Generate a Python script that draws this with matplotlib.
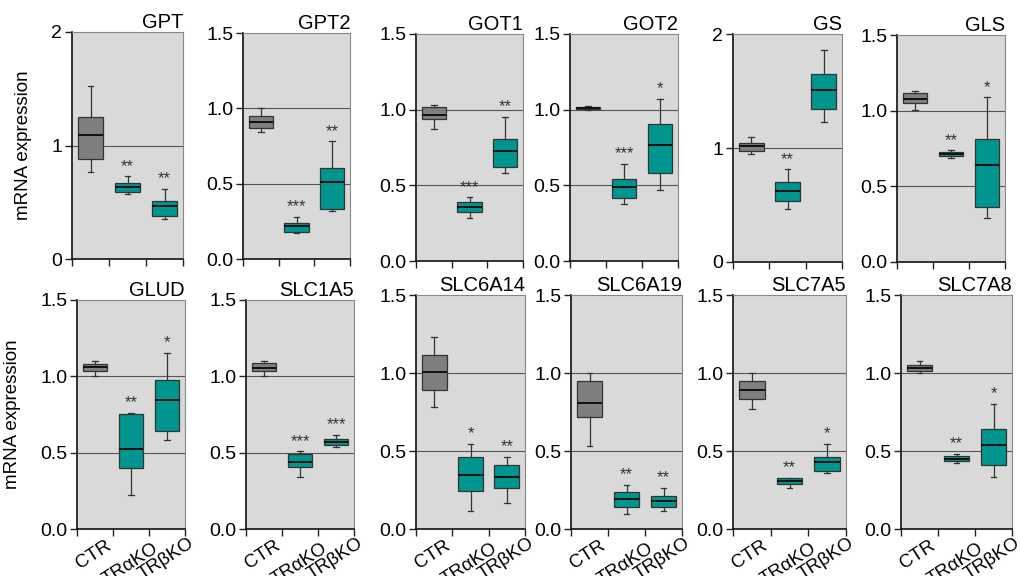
import matplotlib
matplotlib.use("Agg")
import matplotlib.pyplot as plt
from matplotlib.transforms import offset_copy

plt.rcParams['font.family'] = ['Liberation Sans', 'DejaVu Sans']

genes = ["GPT", "GPT2", "GOT1", "GOT2", "GS", "GLS",
         "GLUD", "SLC1A5", "SLC6A14", "SLC6A19", "SLC7A5", "SLC7A8"]
groups = ["CTR", "TRαKO", "TRβKO"]
y_max = [2, 1.5, 1.5, 1.5, 2, 1.5, 1.5, 1.5, 1.5, 1.5, 1.5, 1.5]

# per gene: [CTR, TRaKO, TRbKO]
whisker_low = [
    [0.765, 0.575, 0.355], [0.84, 0.174, 0.317], [0.872, 0.287, 0.583],
    [1.0, 0.377, 0.468], [0.95, 0.463, 1.226], [1.004, 0.687, 0.294],
    [1.0, 0.222, 0.585], [1.0, 0.343, 0.538], [0.779, 0.116, 0.167],
    [0.535, 0.094, 0.118], [0.771, 0.263, 0.358], [1.0, 0.426, 0.334]]
q1 = [
    [0.88, 0.589, 0.381], [0.87, 0.178, 0.335], [0.936, 0.325, 0.618],
    [1.002, 0.415, 0.58], [0.974, 0.531, 1.34], [1.05, 0.70, 0.364],
    [1.033, 0.40, 0.642], [1.037, 0.409, 0.547], [0.893, 0.246, 0.263],
    [0.715, 0.143, 0.141], [0.835, 0.291, 0.37], [1.015, 0.437, 0.411]]
median = [
    [1.09, 0.636, 0.463], [0.912, 0.218, 0.509], [0.967, 0.355, 0.73],
    [1.008, 0.488, 0.764], [1.018, 0.625, 1.513], [1.08, 0.715, 0.638],
    [1.059, 0.521, 0.846], [1.057, 0.44, 0.569], [1.004, 0.347, 0.332],
    [0.807, 0.19, 0.182], [0.892, 0.308, 0.43], [1.034, 0.45, 0.54]]
q3 = [
    [1.255, 0.669, 0.513], [0.95, 0.236, 0.606], [1.015, 0.39, 0.803],
    [1.015, 0.545, 0.907], [1.047, 0.704, 1.65], [1.115, 0.728, 0.812],
    [1.081, 0.756, 0.974], [1.086, 0.49, 0.587], [1.113, 0.46, 0.411],
    [0.946, 0.238, 0.212], [0.95, 0.325, 0.464], [1.051, 0.465, 0.642]]
whisker_high = [
    [1.52, 0.727, 0.616], [1.0, 0.282, 0.78], [1.029, 0.42, 0.951],
    [1.026, 0.642, 1.07], [1.10, 0.812, 1.856], [1.13, 0.737, 1.088],
    [1.101, 0.76, 1.152], [1.099, 0.508, 0.618], [1.231, 0.546, 0.46],
    [1.0, 0.285, 0.261], [1.0, 0.33, 0.548], [1.075, 0.478, 0.80]]
stars = [
    ["", "**", "**"], ["", "***", "**"], ["", "***", "**"],
    ["", "***", "*"], ["", "**", ""], ["", "**", "*"],
    ["", "**", "*"], ["", "***", "***"], ["", "*", "**"],
    ["", "**", "**"], ["", "**", "*"], ["", "**", "*"]]

# panel boxes in pixels: left, right, top, bottom
panels_px = [
    (72, 183, 32, 259), (243, 350, 33, 259), (416, 523, 34, 261),
    (570, 678, 34, 261), (733, 842, 34, 262), (897, 1005, 35, 262),
    (77, 185, 300, 529), (246, 354, 300, 529), (416, 525, 295, 529),
    (571, 682, 295, 529), (733, 846, 295, 529), (901, 1012, 295, 529)]
# label offsets (points) of the rotated group labels
label_dx = [7, 15, 15]
label_dy = [-6, -8, -4]

W, H = 1021, 576
fig = plt.figure(figsize=(W / 100, H / 100), dpi=100)

box_colors = ["#7f7f7f", "#00968f", "#00968f"]
bg = "#d9d9d9"

for i, g in enumerate(genes):
    l, r, t, b = panels_px[i]
    ax = fig.add_axes([l / W, 1 - b / H, (r - l) / W, (b - t) / H])
    ax.set_facecolor(bg)
    stats = []
    for j in range(3):
        stats.append(dict(whislo=whisker_low[i][j], q1=q1[i][j], med=median[i][j],
                          q3=q3[i][j], whishi=whisker_high[i][j], fliers=[]))
    bp = ax.bxp(stats, positions=[0.5, 1.5, 2.5], widths=0.68, capwidths=0.15,
                patch_artist=True, showfliers=False,
                boxprops=dict(edgecolor="#333333", linewidth=0.9),
                medianprops=dict(color="#111111", linewidth=1.4),
                whiskerprops=dict(color="#333333", linewidth=0.9),
                capprops=dict(color="#333333", linewidth=0.9), zorder=3)
    for patch, c in zip(bp['boxes'], box_colors):
        patch.set_facecolor(c)
    ymax = y_max[i]
    ax.set_xlim(0, 3)
    ax.set_ylim(0, ymax)
    if ymax == 2:
        ticks = [0, 1, 2]
        labels = ["0", "1", "2"]
    else:
        ticks = [0, 0.5, 1.0, 1.5]
        labels = ["0.0", "0.5", "1.0", "1.5"]
    ax.set_yticks(ticks)
    ax.set_yticklabels(labels, fontsize=14)
    for tv in ticks[1:-1]:
        ax.axhline(tv, color="#555555", linewidth=0.8, zorder=1)
    ax.set_xticks([0, 1, 2, 3])
    ax.set_xticklabels([])
    if i >= 6:
        for j, name in enumerate(groups):
            tr = offset_copy(ax.get_xaxis_transform(), fig=fig,
                             x=label_dx[j], y=label_dy[j], units="points")
            ax.text(j + 0.5, 0, name, transform=tr, rotation=33,
                    rotation_mode="anchor", ha="right", va="top",
                    fontsize=13.5, clip_on=False)
    ax.tick_params(axis="both", which="major", direction="out", length=5,
                   width=1, color="#222222", pad=2)
    for s in ["top", "right"]:
        ax.spines[s].set_color("#888888")
        ax.spines[s].set_linewidth(0.8)
    for s in ["left", "bottom"]:
        ax.spines[s].set_color("#111111")
        ax.spines[s].set_linewidth(1.2)
    ax.set_title(g, loc="right", fontsize=14.5, pad=2)
    for j in range(3):
        if stars[i][j]:
            ax.text(j + 0.5, whisker_high[i][j] + ymax * 0.012, stars[i][j],
                    ha="center", va="bottom", fontsize=12, color="#333333")
    if i in (0, 6):
        ax.set_ylabel("mRNA expression", fontsize=13.5, labelpad=14)

fig.savefig("out.png", dpi=100)
